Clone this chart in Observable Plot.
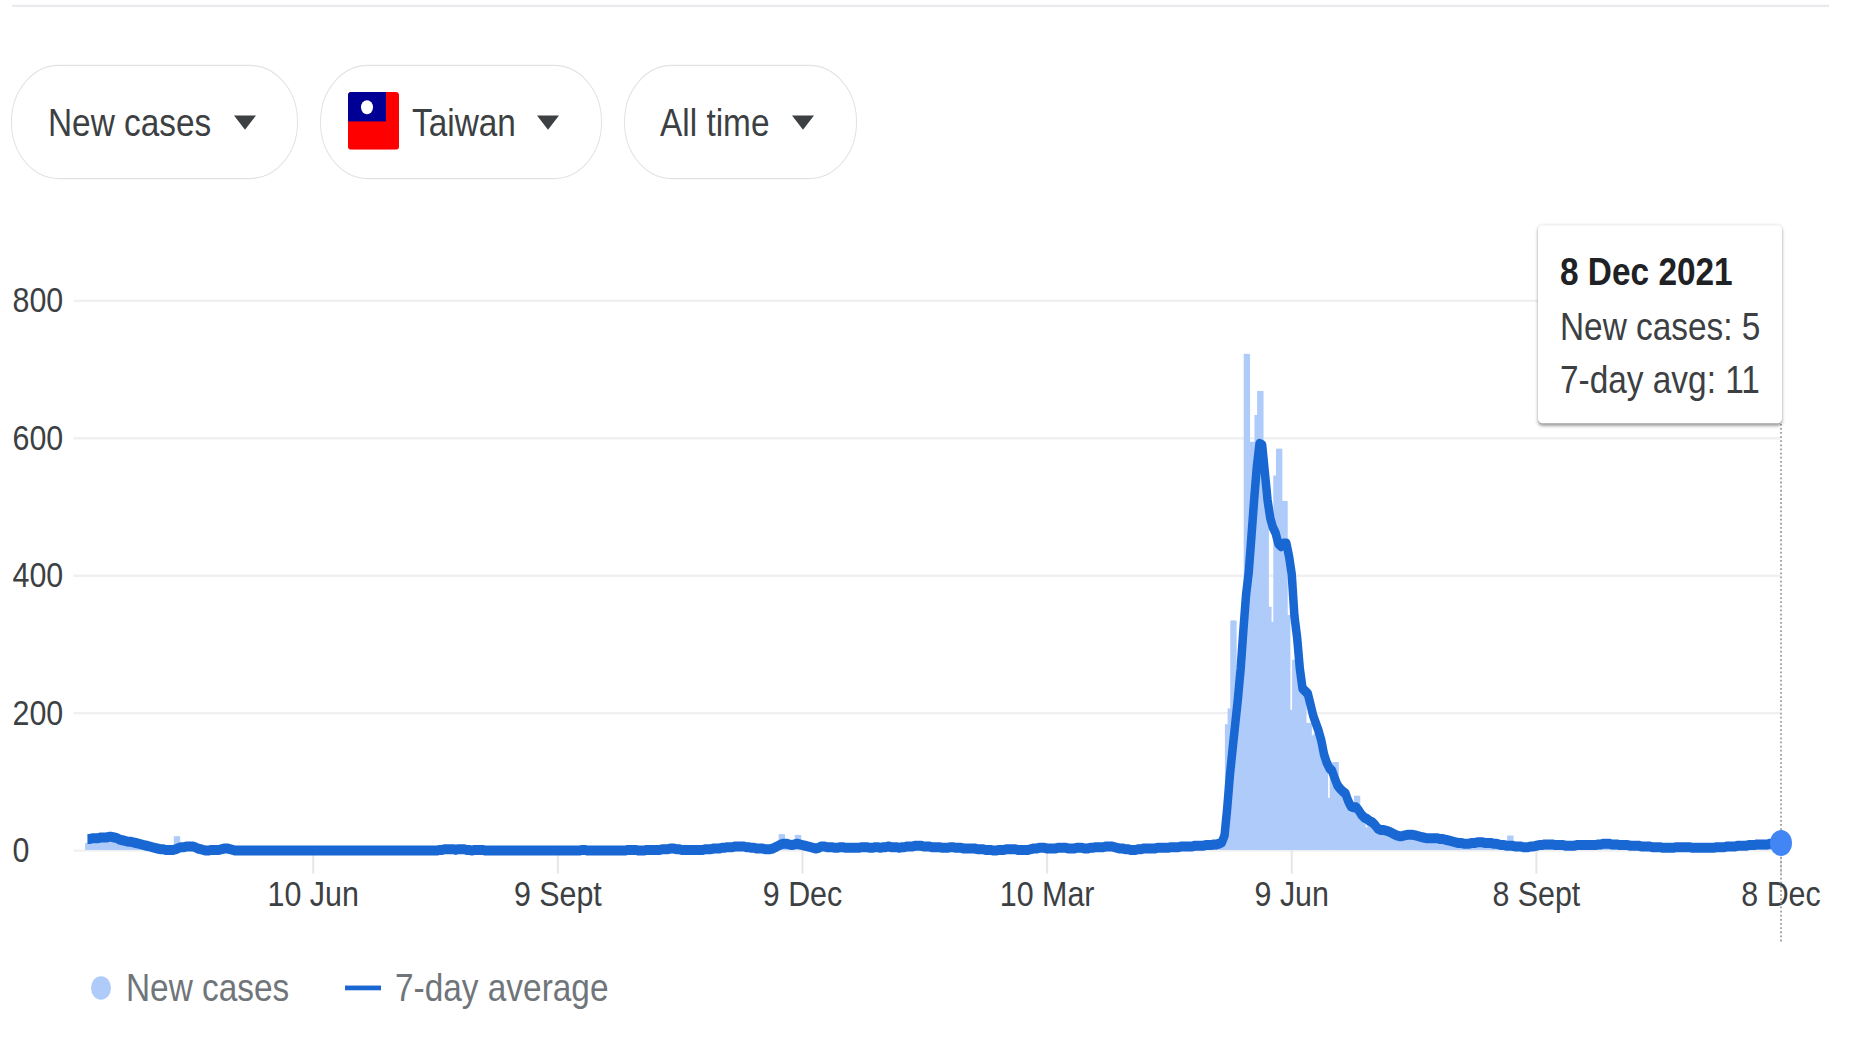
<!DOCTYPE html>
<html>
<head>
<meta charset="utf-8">
<script src="https://cdn.jsdelivr.net/npm/d3@7"></script>
<script src="https://cdn.jsdelivr.net/npm/@observablehq/plot@0.6"></script>
<style>
html,body{margin:0;padding:0;background:#fff;overflow:hidden}
body{width:1849px;height:1048px;font-family:"Liberation Sans",Arial,sans-serif}
#page{position:absolute;left:0;top:0;width:1849px;height:889px;transform:scaleY(1.1789);transform-origin:0 0}
#page>*{position:absolute}
.rule{left:12px;top:4px;width:1817px;height:1.5px;background:#e8eaed}
.pill{top:55px;height:97px;border:1.5px solid #e0e2e6;border-radius:48px;box-sizing:border-box}
.t{font-size:33.4px;line-height:40px;color:#3c4043;white-space:nowrap}
.caret{top:98px;width:0;height:0;border-left:11.5px solid transparent;border-right:11.5px solid transparent;border-top:12px solid #3c4043}
#chart{left:0;top:0}
#tip{left:1538px;top:191px;width:244px;height:168px;background:#fff;border-radius:4px;box-shadow:0 2px 3px rgba(0,0,0,.35),0 0 3px rgba(0,0,0,.1)}
#tip .t{position:absolute;left:22px}
</style>
</head>
<body>
<div id="page">
  <div id="chart"></div>
  <div class="rule"></div>
  <div class="pill" style="left:11px;width:287px"></div>
  <div class="pill" style="left:320px;width:282px"></div>
  <div class="pill" style="left:624px;width:233px"></div>
  <div class="t" style="left:48px;top:84px">New cases</div>
  <div class="caret" style="left:234px"></div>
  <svg style="left:348px;top:78px;border-radius:3px" width="51" height="49" viewBox="0 0 51 49"><rect width="51" height="49" fill="#fe0000"/><rect width="38" height="25" fill="#000095"/><circle cx="19" cy="13" r="6" fill="#fff"/></svg>
  <div class="t" style="left:412px;top:84px">Taiwan</div>
  <div class="caret" style="left:537px"></div>
  <div class="t" style="left:660px;top:84px">All time</div>
  <div class="caret" style="left:792px"></div>
  <div id="tip">
    <div class="t" style="top:20px;font-weight:700;color:#202124">8 Dec 2021</div>
    <div class="t" style="top:66px">New cases: 5</div>
    <div class="t" style="top:111px">7-day avg: 11</div>
  </div>
  <div style="left:91px;top:828px;width:20px;height:20px;border-radius:50%;background:#aecbfa"></div>
  <div class="t" style="left:126px;top:818px;color:#70757a">New cases</div>
  <div style="left:345px;top:836px;width:36px;height:4px;background:#1967d2"></div>
  <div class="t" style="left:395px;top:818px;color:#70757a">7-day average</div>
</div>
<script>
const casesMar20=[10,12,14,15,15,16,15,16,17,16,16,15,14,13];
const avgMar20=[17,17,18,18,18,19,19,19,20,20,19,18,16,15];
const casesApr20=[12,12,11,11,10,9,8,7,6,5,4,4,3,2,2,1,1,1,1,20,20,6,5,6,6,5,4,2,1,1];
const avgApr20=[14,13,13,12,11,10,9,8,7,6,5,4,3,2,2,1,1,1,1,2,4,5,5,6,6,6,5,3,2,1];
const casesMay20=[0,0,1,1,1,1,2,3,3,2,1,0,0,0,0,0,0,0,0,0,0,0,0,0,0,0,0,0,0,0,0];
const avgMay20=[0,0,1,1,1,1,2,3,3,2,1,0,0,0,0,0,0,0,0,0,0,0,0,0,0,0,0,0,0,0,0];
const casesJun20=[0,0,0,0,0,0,0,0,0,0,0,0,0,0,0,0,0,0,0,0,0,0,0,0,0,0,0,0,0,0];
const avgJun20=[0,0,0,0,0,0,0,0,0,0,0,0,0,0,0,0,0,0,0,0,0,0,0,0,0,0,0,0,0,0];
const casesJul20=[0,0,0,0,0,0,0,0,0,0,0,0,0,0,0,0,0,0,0,0,0,0,0,0,0,0,1,1,2,2,2];
const avgJul20=[0,0,0,0,0,0,0,0,0,0,0,0,0,0,0,0,0,0,0,0,0,0,0,0,0,0,1,1,2,2,2];
const casesAug20=[2,1,3,2,2,1,1,0,1,1,1,1,0,0,0,0,0,0,0,0,1,0,0,0,0,1,0,0,0,0,0];
const avgAug20=[2,1,2,2,2,1,1,0,1,1,1,1,0,0,0,0,0,0,0,0,0,0,0,0,0,0,0,0,0,0,0];
const casesSep20=[0,0,0,0,0,0,0,0,0,1,0,0,0,0,0,0,0,1,0,0,0,0,0,0,0,1,0,0,0,0];
const avgSep20=[0,0,0,0,0,0,0,0,0,0,0,0,0,0,0,0,0,1,1,0,0,0,0,0,0,0,0,0,0,0];
const casesOct20=[0,0,0,0,1,1,1,1,0,0,0,1,1,1,1,1,1,2,2,2,3,3,2,2,1,1,1,1,1,1,1];
const avgOct20=[0,0,0,0,1,1,1,1,0,0,0,1,1,1,1,1,1,2,2,2,3,3,2,2,1,1,1,1,1,1,1];
const casesNov20=[1,1,2,2,2,3,3,3,4,4,5,5,5,6,6,6,6,5,5,4,4,3,3,3,2,2,2,3,5,7];
const avgNov20=[1,1,2,2,2,3,3,3,4,4,5,5,5,6,6,6,6,5,5,4,4,3,3,3,2,2,2,3,5,7];
const casesDec20=[23,23,8,7,6,7,22,22,7,6,5,4,3,3,4,6,6,5,5,5,4,4,5,5,4,4,4,4,4,4,5];
const avgDec20=[9,10,10,9,8,9,10,9,8,7,6,5,4,3,4,6,6,5,5,5,4,4,5,5,4,4,4,4,4,4,5];
const casesJan21=[5,5,4,4,5,5,4,5,5,6,5,5,5,4,5,5,6,6,6,7,7,7,6,6,6,5,5,5,5,4,4];
const avgJan21=[5,5,4,4,5,5,4,5,5,6,5,5,5,4,5,5,6,6,6,7,7,7,6,6,6,5,5,5,5,4,4];
const casesFeb21=[4,5,5,4,4,4,3,3,3,3,3,2,2,2,1,1,1,0,0,1,1,1,2,2,2,2,1,1];
const avgFeb21=[4,5,5,4,4,4,3,3,3,3,3,2,2,2,1,1,1,0,0,1,1,1,2,2,2,2,1,1];
const casesMar21=[1,1,1,2,3,3,4,4,4,3,3,3,3,4,4,4,4,3,3,3,4,4,4,3,3,4,4,5,5,5,5];
const avgMar21=[1,1,1,2,3,3,4,4,4,3,3,3,3,4,4,4,4,3,3,3,4,4,4,3,3,4,4,5,5,5,5];
const casesApr21=[6,6,6,5,4,3,3,2,2,1,1,1,2,2,3,3,3,3,3,4,4,4,4,4,5,5,5,5,6,6];
const avgApr21=[6,6,6,5,4,3,3,2,2,1,1,1,2,2,3,3,3,3,3,4,4,4,4,4,5,5,5,5,6,6];
const casesMay21=[5,7,6,8,6,9,7,8,10,8,12,9,11,14,30,183,206,334,334,240,290,341,722,722,594,594,633,668,668,540,505];
const avgMay21=[6,6,6,7,7,7,7,8,8,8,9,9,10,12,22,62,110,148,185,222,265,320,372,405,457,510,558,592,590,550,510];
const casesJun21=[354,332,545,584,584,508,508,342,204,277,270,260,235,230,185,185,167,170,165,150,130,125,76,115,128,128,100,80,75,60];
const avgJun21=[484,470,462,447,443,447,447,428,402,341,310,265,236,232,228,212,196,185,174,160,140,128,120,116,105,95,90,86,83,72];
const casesJul21=[55,60,79,79,50,45,33,40,38,35,30,28,27,28,26,25,22,20,18,19,21,22,21,20,19,18,17,16,16,17,15];
const avgJul21=[64,63,63,58,52,48,46,43,41,37,32,30,30,29,28,26,24,22,21,21,22,23,23,23,22,21,20,19,18,18,18];
const casesAug21=[16,17,16,15,14,13,12,11,10,9,8,8,7,8,9,10,11,12,11,10,10,9,9,8,7,6,5,5,21,21,4];
const avgAug21=[18,18,17,17,16,15,14,13,12,11,11,10,10,10,11,11,12,12,12,11,11,11,10,10,9,8,8,7,7,7,6];
const casesSep21=[5,4,5,4,4,5,6,7,8,9,9,10,10,9,8,8,8,7,7,7,7,7,8,8,8,8,8,8,8,8];
const avgSep21=[6,6,5,5,5,6,6,7,8,8,9,9,9,9,8,8,8,8,7,7,7,7,8,8,8,8,8,8,8,8];
const casesOct21=[9,9,10,10,10,9,9,9,8,8,8,8,7,7,7,7,6,6,6,6,5,5,5,5,4,4,4,4,4,5,5];
const avgOct21=[9,9,10,10,10,9,9,9,8,8,8,8,7,7,7,7,6,6,6,6,5,5,5,5,4,4,4,4,4,5,5];
const casesNov21=[5,5,5,5,4,4,4,4,4,4,4,4,4,5,5,5,5,6,6,6,6,7,7,7,7,8,8,8,9,9];
const avgNov21=[5,5,5,5,4,4,4,4,4,4,4,4,4,5,5,5,5,6,6,6,6,7,7,7,7,8,8,8,9,9];
const casesDec21=[9,10,12,10,9,11,10,5];
const avgDec21=[9,9,9,10,10,10,11,11];

const monthTable=[
["2020-03-18",casesMar20,avgMar20],["2020-04-01",casesApr20,avgApr20],["2020-05-01",casesMay20,avgMay20],
["2020-06-01",casesJun20,avgJun20],["2020-07-01",casesJul20,avgJul20],["2020-08-01",casesAug20,avgAug20],
["2020-09-01",casesSep20,avgSep20],["2020-10-01",casesOct20,avgOct20],["2020-11-01",casesNov20,avgNov20],
["2020-12-01",casesDec20,avgDec20],["2021-01-01",casesJan21,avgJan21],["2021-02-01",casesFeb21,avgFeb21],
["2021-03-01",casesMar21,avgMar21],["2021-04-01",casesApr21,avgApr21],["2021-05-01",casesMay21,avgMay21],
["2021-06-01",casesJun21,avgJun21],["2021-07-01",casesJul21,avgJul21],["2021-08-01",casesAug21,avgAug21],
["2021-09-01",casesSep21,avgSep21],["2021-10-01",casesOct21,avgOct21],["2021-11-01",casesNov21,avgNov21],
["2021-12-01",casesDec21,avgDec21]];

const xTickDates=["2020-06-10","2020-09-09","2020-12-09","2021-03-10","2021-06-09","2021-09-08","2021-12-08"].map(d=>new Date(d));
const xTickLabels=["10 Jun","9 Sept","9 Dec","10 Mar","9 Jun","8 Sept","8 Dec"];
const yTicks=[0,200,400,600,800];

const rows=monthTable.flatMap(([start,c,a])=>c.map((v,i)=>({date:d3.utcDay.offset(new Date(start),i),cases:v,avg:a[i]})));
const last=rows[rows.length-1];
const halfDay=12*3600*1000;
const bars=rows.filter(d=>d.cases>0);
const labelOf=d=>xTickLabels[xTickDates.findIndex(t=>+t===+d)];

const plot=Plot.plot({
  width:1849,height:889,
  marginLeft:73.5,marginRight:68.5,marginTop:254.7,marginBottom:168,
  style:{fontFamily:'"Liberation Sans",Arial,sans-serif',fontSize:"30.4px",background:"transparent",overflow:"visible"},
  x:{type:"utc",domain:[new Date("2020-03-13"),new Date("2021-12-08")],axis:null},
  y:{domain:[0,800],axis:null},
  marks:[
    Plot.ruleY(yTicks,{stroke:"#f0f0f0",strokeWidth:2}),
    Plot.rectY(bars,{x1:d=>new Date(+d.date-halfDay),x2:d=>new Date(+d.date+halfDay),y:"cases",fill:"#aecbfa",insetLeft:-0.5,insetRight:-0.5}),
    Plot.axisX({ticks:xTickDates,tickFormat:labelOf,tickSize:20,tickPadding:5.5,stroke:"#e6e6e6",strokeWidth:2,fill:"#3c4043",fontSize:30.4,label:null}),
    Plot.text(yTicks,{y:d=>d,text:d=>String(d),frameAnchor:"left",dx:-61.5,textAnchor:"start",fill:"#3c4043",fontSize:30.4}),
    Plot.ruleX([last],{x:"date",y1:-133,y2:620,stroke:"#8a8a8a",strokeWidth:1.5,strokeDasharray:"1.5 2"}),
    Plot.line(rows,{x:"date",y:"avg",stroke:"#1967d2",strokeWidth:8.5,strokeLinejoin:"round",strokeLinecap:"butt"}),
    Plot.dot([last],{x:"date",y:"avg",r:11,fill:"#4285f4"})
  ]
});
document.getElementById("chart").appendChild(plot);
</script>
</body>
</html>
